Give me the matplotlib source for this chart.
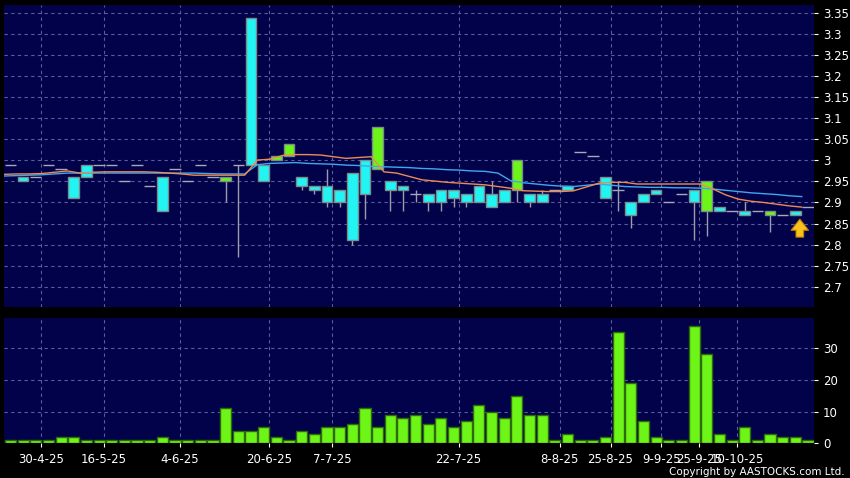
import numpy as np
import matplotlib
matplotlib.use("Agg")
import matplotlib.pyplot as plt

# daily candles (oldest -> newest)
opens = [2.99, 2.96, 2.96, 2.99, 2.98, 2.96, 2.99, 2.99, 2.99, 2.95, 2.99, 2.94, 2.96, 2.98, 2.95, 2.99,
         2.96, 2.95, 2.99, 3.34, 2.99, 3.00, 3.01, 2.96, 2.94, 2.94, 2.93, 2.97, 3.00, 2.98, 2.95, 2.94,
         2.92, 2.92, 2.93, 2.93, 2.92, 2.94, 2.92, 2.93, 2.93, 2.92, 2.92, 2.93, 2.94, 3.02, 3.01, 2.96,
         2.93, 2.90, 2.92, 2.93, 2.90, 2.92, 2.93, 2.88, 2.89, 2.88, 2.88, 2.88, 2.87, 2.87, 2.88, 2.89]
closes = [2.99, 2.95, 2.96, 2.99, 2.98, 2.91, 2.96, 2.99, 2.99, 2.95, 2.99, 2.94, 2.88, 2.98, 2.95, 2.99,
          2.96, 2.96, 2.99, 2.99, 2.95, 3.01, 3.04, 2.94, 2.93, 2.90, 2.90, 2.81, 2.92, 3.08, 2.93, 2.93,
          2.92, 2.90, 2.90, 2.91, 2.90, 2.90, 2.89, 2.90, 3.00, 2.90, 2.90, 2.93, 2.93, 3.02, 3.01, 2.91,
          2.93, 2.87, 2.90, 2.92, 2.90, 2.92, 2.90, 2.95, 2.88, 2.88, 2.87, 2.88, 2.88, 2.87, 2.87, 2.89]
highs = [2.99, 2.96, 2.96, 2.99, 2.98, 2.96, 2.99, 2.99, 2.99, 2.95, 2.99, 2.94, 2.96, 2.98, 2.95, 2.99,
         2.96, 2.96, 2.99, 3.34, 2.99, 3.01, 3.04, 2.96, 2.94, 2.98, 2.93, 2.97, 3.00, 3.08, 2.95, 2.94,
         2.93, 2.92, 2.93, 2.93, 2.92, 2.94, 2.95, 2.93, 3.00, 2.92, 2.93, 2.93, 2.94, 3.02, 3.01, 2.96,
         2.95, 2.90, 2.92, 2.93, 2.90, 2.92, 2.93, 2.95, 2.89, 2.88, 2.90, 2.88, 2.88, 2.87, 2.88, 2.89]
lows = [2.99, 2.95, 2.96, 2.99, 2.98, 2.91, 2.96, 2.99, 2.99, 2.95, 2.99, 2.94, 2.88, 2.98, 2.95, 2.99,
        2.96, 2.90, 2.77, 2.99, 2.95, 3.00, 3.01, 2.93, 2.92, 2.89, 2.89, 2.80, 2.86, 2.98, 2.88, 2.88,
        2.90, 2.88, 2.88, 2.89, 2.89, 2.90, 2.89, 2.90, 2.90, 2.89, 2.90, 2.93, 2.93, 3.02, 3.01, 2.91,
        2.88, 2.84, 2.90, 2.92, 2.90, 2.92, 2.81, 2.82, 2.88, 2.88, 2.87, 2.88, 2.83, 2.87, 2.87, 2.89]

ma_short = [2.967, 2.968, 2.968, 2.969, 2.972, 2.975, 2.970, 2.972, 2.973, 2.973, 2.973, 2.973, 2.972,
            2.970, 2.968, 2.965, 2.965, 2.965, 2.965, 2.965, 3.001, 3.003, 3.012, 3.014, 3.014, 3.013,
            3.009, 3.005, 3.007, 3.009, 2.973, 2.970, 2.962, 2.954, 2.951, 2.948, 2.946, 2.944, 2.942,
            2.938, 2.934, 2.928, 2.927, 2.926, 2.926, 2.928, 2.937, 2.946, 2.948, 2.948, 2.944, 2.944,
            2.944, 2.944, 2.944, 2.944, 2.932, 2.918, 2.908, 2.903, 2.900, 2.896, 2.892, 2.889]
ma_long = [2.963, 2.964, 2.965, 2.966, 2.968, 2.970, 2.970, 2.970, 2.970, 2.970, 2.970, 2.970, 2.970,
           2.970, 2.970, 2.970, 2.969, 2.968, 2.968, 2.968, 2.990, 2.993, 2.994, 2.995, 2.993, 2.992,
           2.991, 2.989, 2.988, 2.986, 2.985, 2.984, 2.983, 2.981, 2.980, 2.978, 2.977, 2.975, 2.974,
           2.970, 2.952, 2.947, 2.944, 2.941, 2.939, 2.938, 2.941, 2.944, 2.941, 2.938, 2.937, 2.936,
           2.936, 2.935, 2.935, 2.934, 2.932, 2.929, 2.926, 2.923, 2.921, 2.919, 2.916, 2.914]

volume = [1, 1, 1, 1, 2, 2, 1, 1, 1, 1, 1, 1, 2, 1, 1, 1, 1,
          11, 4, 4, 5, 2, 1, 4, 3, 5, 5, 6, 11, 5, 9, 8, 9,
          6, 8, 5, 7, 12, 10, 8, 15, 9, 9, 1, 3, 1, 1, 2, 35, 19, 7, 2, 1, 1, 37, 28, 3, 1, 5, 1, 3, 2, 2, 1]

date_labels = ['30-4-25', '16-5-25', '4-6-25', '20-6-25', '7-7-25', '22-7-25',
               '8-8-25', '25-8-25', '9-9-25', '25-9-25', '10-10-25']
date_bars = [2, 7, 13, 20, 25, 35, 43, 47, 51, 54, 57]
price_ticks = [2.7, 2.75, 2.8, 2.85, 2.9, 2.95, 3, 3.05, 3.1, 3.15, 3.2, 3.25, 3.3, 3.35]
vol_ticks = [0, 10, 20, 30]

navy = '#02024a'
gridc = '#5c5c9c'
cyan = '#22f4f4'
lime = '#6cf516'
wickc = '#9c9cac'

o = np.array(opens); c = np.array(closes); h = np.array(highs); l = np.array(lows)
x = np.arange(len(o))
tick_x = np.array(date_bars) + 0.4

fig = plt.figure(figsize=(8.5, 4.78), dpi=100, facecolor='black')
ax = fig.add_axes([4/850, 1 - 306.7/478, 810/850, 301.7/478], facecolor=navy)
axv = fig.add_axes([4/850, 1 - 443.3/478, 810/850, 125/478], facecolor=navy, sharex=ax)

for a in (ax, axv):
    for s in a.spines.values():
        s.set_visible(False)
    a.grid(True, color=gridc, linestyle=(0, (3, 3)), linewidth=0.8)
    a.set_axisbelow(True)
    a.yaxis.tick_right()
    a.tick_params(colors='white', labelsize=8.5, length=3, width=0.8)

# wicks and candles
ax.vlines(x, l, h, color=wickc, linewidth=1, zorder=2)
doji = o == c
ax.hlines(c[doji], x[doji] - 0.45, x[doji] + 0.45, color='#a8a8b8', linewidth=1, zorder=3)
body = ~doji
cols = np.where(c > o, lime, cyan)
ax.bar(x[body], np.abs(c - o)[body], bottom=np.minimum(o, c)[body], width=0.84,
       color=cols[body], edgecolor='#7a8c8c', linewidth=1, zorder=3)

ax.plot(x - 0.5, ma_long, color='#3ea8ee', linewidth=1, zorder=4)
ax.plot(x - 0.5, ma_short, color='#ee8a52', linewidth=1, zorder=4)

# latest bar marker
ax.annotate('', xy=(x[-2] + 0.35, 2.867), xytext=(x[-2] + 0.35, 2.811),
            arrowprops=dict(arrowstyle='simple,head_width=1.25,head_length=0.8,tail_width=0.55',
                            fc='#f7c21b', ec='#c08000', lw=0.8), zorder=5)

ax.set_ylim(2.652, 3.370)
ax.set_yticks(price_ticks)
ax.set_yticklabels(['%g' % t for t in price_ticks])
ax.set_xlim(-0.51, 63.47)
ax.set_xticks(tick_x)
ax.tick_params(axis='x', bottom=False, labelbottom=False)

axv.bar(x, volume, width=0.88, color=lime, edgecolor='#2f6a08', linewidth=1, zorder=3)
axv.set_ylim(0, 39.4)
axv.set_yticks(vol_ticks)
axv.set_xticks(tick_x)
axv.set_xticklabels(date_labels)
axv.tick_params(axis='x', pad=4)

fig.text(0.994, 0.003, 'Copyright by AASTOCKS.com Ltd.', color='white', fontsize=7.5,
         ha='right', va='bottom')

fig.savefig('out.png', dpi=100, facecolor='black')
